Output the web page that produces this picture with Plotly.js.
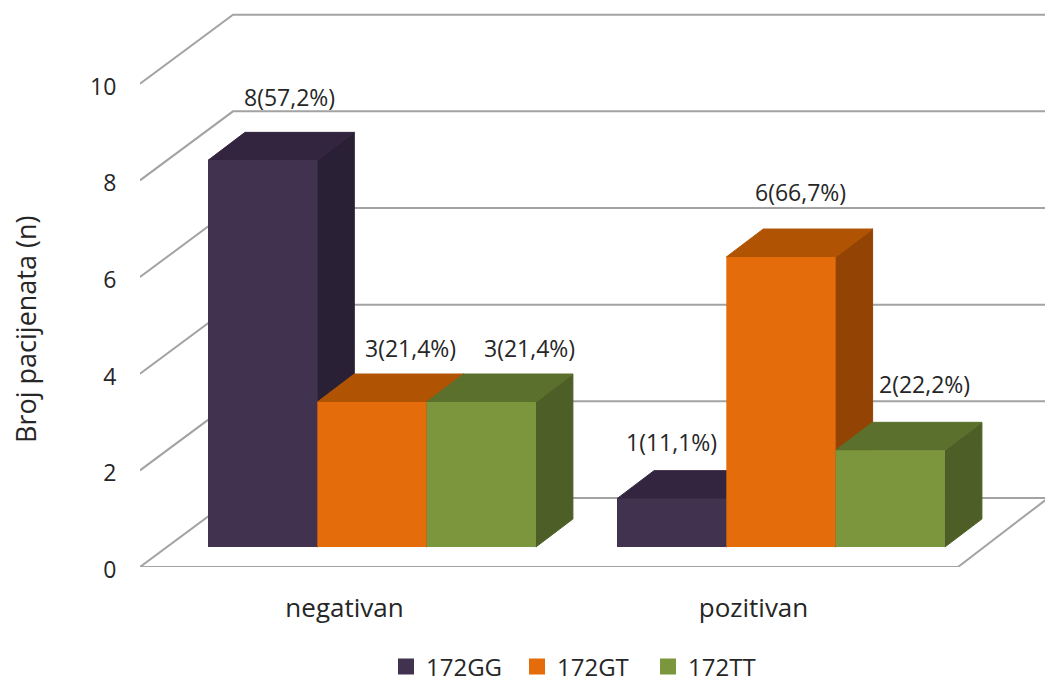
<!DOCTYPE html>
<html><head><meta charset="utf-8">
<script src="https://cdn.plot.ly/plotly-3.0.1.min.js"></script>
<style>html,body{margin:0;padding:0;background:#fff}</style></head>
<body><div id="chart" style="width:1045px;height:684px"></div>
<script>
// --- data ---
const categories = ['negativan', 'pozitivan'];
const seriesNames = ['172GG', '172GT', '172TT'];
const gg = [8, 1];
const gt = [3, 6];
const tt = [3, 2];
const ggLabels = ['8(57,2%)', '1(11,1%)'];
const gtLabels = ['3(21,4%)', '6(66,7%)'];
const ttLabels = ['3(21,4%)', '2(22,2%)'];
const yTicks = [0, 2, 4, 6, 8, 10];

// --- styles ---
const frontCol = ['#413250', '#e46c0a', '#7c963d'];
const topCol = ['#33243f', '#b05404', '#5c702e'];
const sideCol = ['#2a2035', '#934404', '#4d5f26'];
const lineCol = '#a3a3a3';
const textCol = '#262626';
const font = 'Open Sans, Noto Sans, sans-serif';

// --- geometry, in pixels per axis unit ---
const W = 1045, H = 684, L = 140, FLOOR = 567, PXX = 409, PXY = 48.33;
const wallDx = 93 / PXX, wallDy = 69 / PXY;
const barDx = 37 / PXX, barDy = 28 / PXY;
const inset = 68 / PXX, base = 20 / PXY, barW = 109.3 / PXX;
const catX = categories.map((_, i) => i + 0.5);
const values = [gg, gt, tt];
const labels = [ggLabels, gtLabels, ttLabels];
// pixel nudges for the hand-placed data labels
const labelShiftX = [[27, 0], [39, 20], [48, 34]];
const labelShiftY = [[63, 57], [54, 65], [54, 66]];

const traces = [];
const skip = {hoverinfo: 'skip', showlegend: false};

// back wall + side wall gridlines
const gx = [], gy = [];
const xEnd = (W - L) / PXX;
yTicks.forEach(t => {
  gx.push(0, wallDx, xEnd, null);
  gy.push(t, t + wallDy, t + wallDy, null);
});
traces.push(Object.assign({type: 'scatter', mode: 'lines', x: gx, y: gy,
  cliponaxis: false, line: {color: lineCol, width: 2}}, skip));
// floor front edge
traces.push(Object.assign({type: 'scatter', mode: 'lines',
  x: [0, 2, 2 + wallDx * 0.94], y: [0, 0, wallDy * 0.97],
  cliponaxis: false, line: {color: lineCol, width: 2}}, skip));

// depth faces, left to right
categories.forEach((_, c) => {
  seriesNames.forEach((_, s) => {
    const x0 = c + inset + s * barW, x1 = x0 + barW;
    const v = values[s][c] + base;
    traces.push(Object.assign({type: 'scatter', mode: 'lines', fill: 'toself',
      x: [x1, x1 + barDx, x1 + barDx, x1, x1],
      y: [base, base + barDy, v + barDy, v, base],
      fillcolor: sideCol[s], line: {width: 1, color: sideCol[s]}}, skip));
    traces.push(Object.assign({type: 'scatter', mode: 'lines', fill: 'toself',
      x: [x0, x1, x1 + barDx, x0 + barDx, x0],
      y: [v, v, v + barDy, v + barDy, v],
      fillcolor: topCol[s], line: {width: 1, color: topCol[s]}}, skip));
  });
});

// front faces: real bars, on an overlaying axis so they sit above the depth faces
seriesNames.forEach((name, s) => {
  traces.push({type: 'bar', yaxis: 'y2', x: catX, y: values[s],
    base: categories.map(() => base), width: barW,
    offset: inset - 0.5 + s * barW,
    marker: {color: frontCol[s], line: {width: 0}},
    hoverinfo: 'skip', showlegend: false});
});
// legend keys
seriesNames.forEach((name, s) => {
  traces.push({type: 'scatter', mode: 'markers', x: [null], y: [null], name: name,
    marker: {symbol: 'square', size: 17, color: frontCol[s]}, hoverinfo: 'skip', showlegend: true});
});

// data labels
const annotations = [];
categories.forEach((_, c) => {
  seriesNames.forEach((_, s) => {
    annotations.push({xref: 'x', yref: 'y', x: c + inset + (s + 0.5) * barW,
      y: values[s][c] + base, text: labels[s][c], showarrow: false,
      xanchor: 'center', yanchor: 'middle',
      xshift: labelShiftX[s][c], yshift: labelShiftY[s][c],
      font: {family: font, size: 23, color: textCol}});
  });
});
// axis title
annotations.push({xref: 'paper', yref: 'paper', x: -115 / (W - L), y: (H - 117 - 329) / (H - 117),
  text: 'Broj pacijenata (n)', textangle: -90, showarrow: false,
  xanchor: 'center', yanchor: 'middle',
  font: {family: font, size: 27, color: textCol}});

const yRange = [0, FLOOR / PXY];
const layout = {
  width: W, height: H,
  margin: {l: L, r: 0, t: 0, b: H - FLOOR, pad: 0, autoexpand: false},
  paper_bgcolor: '#fff', plot_bgcolor: '#fff',
  barmode: 'overlay',
  font: {family: font, color: textCol},
  xaxis: {type: 'linear', range: [0, xEnd], tickmode: 'array', tickvals: catX, ticktext: categories,
    showgrid: false, zeroline: false, showline: false,
    ticks: 'outside', ticklen: 18, tickcolor: 'rgba(0,0,0,0)',
    tickfont: {family: font, size: 26, color: textCol}, fixedrange: true},
  yaxis: {range: yRange, tickmode: 'array', tickvals: yTicks,
    showgrid: false, zeroline: false, showline: false,
    ticks: 'outside', ticklen: 18, ticklabelshift: 3, tickcolor: 'rgba(0,0,0,0)',
    tickfont: {family: font, size: 23, color: textCol}, fixedrange: true},
  yaxis2: {range: yRange, overlaying: 'y', visible: false, fixedrange: true},
  legend: {orientation: 'h', x: (386 - L) / (W - L), xanchor: 'left', y: -100 / (H - 117), yanchor: 'middle',
    entrywidth: 86, entrywidthmode: 'pixels', bgcolor: 'rgba(0,0,0,0)',
    font: {family: font, size: 24, color: textCol}},
  annotations: annotations
};
Plotly.newPlot('chart', traces, layout, {displayModeBar: false, responsive: false});
</script></body></html>
